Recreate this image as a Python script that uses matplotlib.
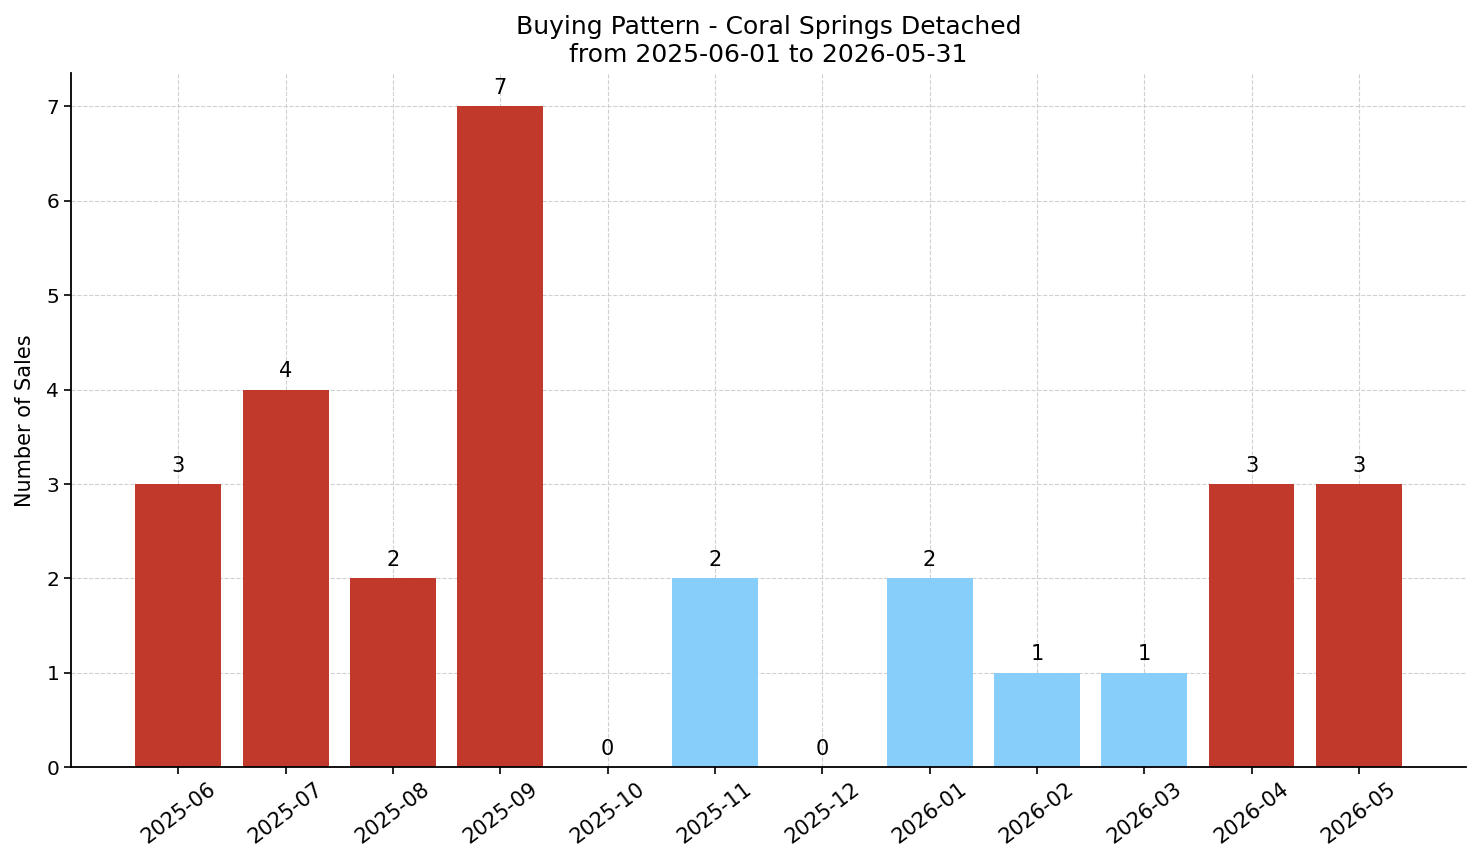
import numpy as np
import matplotlib.pyplot as plt

months = ['2025-06', '2025-07', '2025-08', '2025-09', '2025-10', '2025-11',
          '2025-12', '2026-01', '2026-02', '2026-03', '2026-04', '2026-05']
sales = [3, 4, 2, 7, 0, 2, 0, 2, 1, 1, 3, 3]
high_season = [True, True, True, True, False, False,
               False, False, False, False, True, True]

RED = '#c0392b'
BLUE = '#87cefa'

fig = plt.figure(figsize=(14.81, 8.63), dpi=100)
ax = fig.add_axes([0.048, 0.111, 0.942, 0.804])

x = np.arange(len(months))
colors = [RED if h else BLUE for h in high_season]
ax.bar(x, sales, width=0.8, color=colors, zorder=2)

for xi, v in zip(x, sales):
    ax.annotate(str(v), (xi, v), xytext=(0, 6), textcoords='offset points',
                ha='center', va='bottom', fontsize=15)

ax.set_xticks(x)
ax.set_xticklabels(months, rotation=37, fontsize=15)
ax.tick_params(axis='y', labelsize=14.5)
ax.tick_params(width=1.2, length=5)
ax.set_xlim(-1, 12)
ax.set_ylim(0, 7.35)
ax.set_ylabel('Number of Sales', fontsize=15, labelpad=8)
ax.set_title('Buying Pattern - Coral Springs Detached\nfrom 2025-06-01 to 2026-05-31',
             fontsize=18, pad=8)
ax.grid(True, linestyle='--', color='#d0d0d0', linewidth=0.8, zorder=0)
ax.set_axisbelow(True)
ax.spines['top'].set_visible(False)
ax.spines['right'].set_visible(False)
for s in ('left', 'bottom'):
    ax.spines[s].set_linewidth(1.3)

fig.savefig('out.png', dpi=100)
